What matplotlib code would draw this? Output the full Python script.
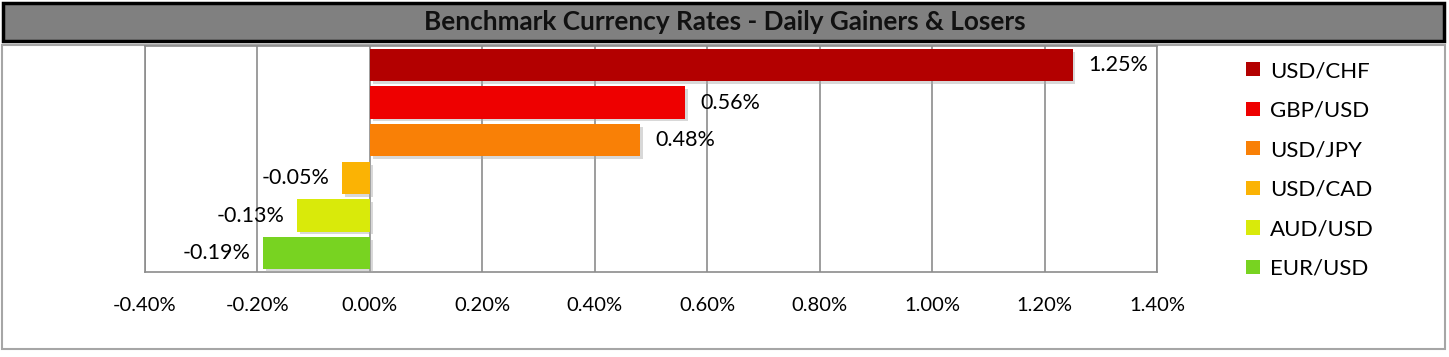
import matplotlib.pyplot as plt
import matplotlib.patheffects as pe
from matplotlib.patches import Rectangle, Patch
from matplotlib.ticker import FuncFormatter

# data
pairs = ['USD/CHF', 'GBP/USD', 'USD/JPY', 'USD/CAD', 'AUD/USD', 'EUR/USD']
changes = [1.25, 0.56, 0.48, -0.05, -0.13, -0.19]
colors = ['#B30000', '#EE0000', '#F98006', '#FBB304', '#D9EA0A', '#78D321']

W, H = 1449, 357
plt.rcParams['font.family'] = ['Lato', 'DejaVu Sans']

fig = plt.figure(figsize=(W / 100, H / 100), dpi=100)

# title bar
fig.patches.append(Rectangle((3 / W, (H - 41) / H), (W - 8) / W, 38 / H, transform=fig.transFigure,
                             facecolor='#808080', edgecolor='black', linewidth=2.5, zorder=-2))
fig.text(0.5, (H - 22) / H, 'Benchmark Currency Rates - Daily Gainers & Losers', ha='center', va='center',
         fontsize=18.8, fontweight='bold', color='#111111')

# chart border
fig.patches.append(Rectangle((2 / W, 8 / H), (W - 6) / W, (H - 53) / H, transform=fig.transFigure,
                             facecolor='none', edgecolor='#A6A6A6', linewidth=1.5, zorder=-2))

ax = fig.add_axes([145 / W, (H - 272) / H, (1157 - 145) / W, (272 - 46) / H])
ax.set_xlim(-0.4, 1.4)
ax.set_ylim(len(pairs) - 0.5, -0.5)

shadow = [pe.SimplePatchShadow(offset=(2, -2), shadow_rgbFace='#aaaaaa', alpha=0.45), pe.Normal()]
bars = ax.barh(range(len(pairs)), changes, height=0.85, color=colors, zorder=3)
for b in bars:
    b.set_path_effects(shadow)

for i, v in enumerate(changes):
    if v >= 0:
        ax.annotate(f'{v:.2f}%', (v, i), xytext=(11, 0), textcoords='offset points',
                    ha='left', va='center', fontsize=15.5)
    else:
        ax.annotate(f'{v:.2f}%', (v, i), xytext=(-9, 0), textcoords='offset points',
                    ha='right', va='center', fontsize=15.5)

ax.set_xticks([-0.4 + 0.2 * k for k in range(10)])
ax.xaxis.set_major_formatter(FuncFormatter(lambda x, p: f'{x:.2f}%'))
ax.set_yticks([])
ax.tick_params(axis='x', length=0, pad=18, labelsize=14.5)
ax.grid(axis='x', color='#8C8C8C', linewidth=1.2, zorder=0)
for s in ax.spines.values():
    s.set_color('#8C8C8C')
    s.set_linewidth(1.2)

handles = [Patch(facecolor=c, label=p) for c, p in zip(colors, pairs)]
fig.legend(handles=handles, loc='upper left', bbox_to_anchor=(1226 / W, (H - 41) / H), frameon=False,
           fontsize=16, handlelength=0.62, handleheight=0.62, handletextpad=0.45, labelspacing=0.88)

fig.savefig('out.png', dpi=100)
